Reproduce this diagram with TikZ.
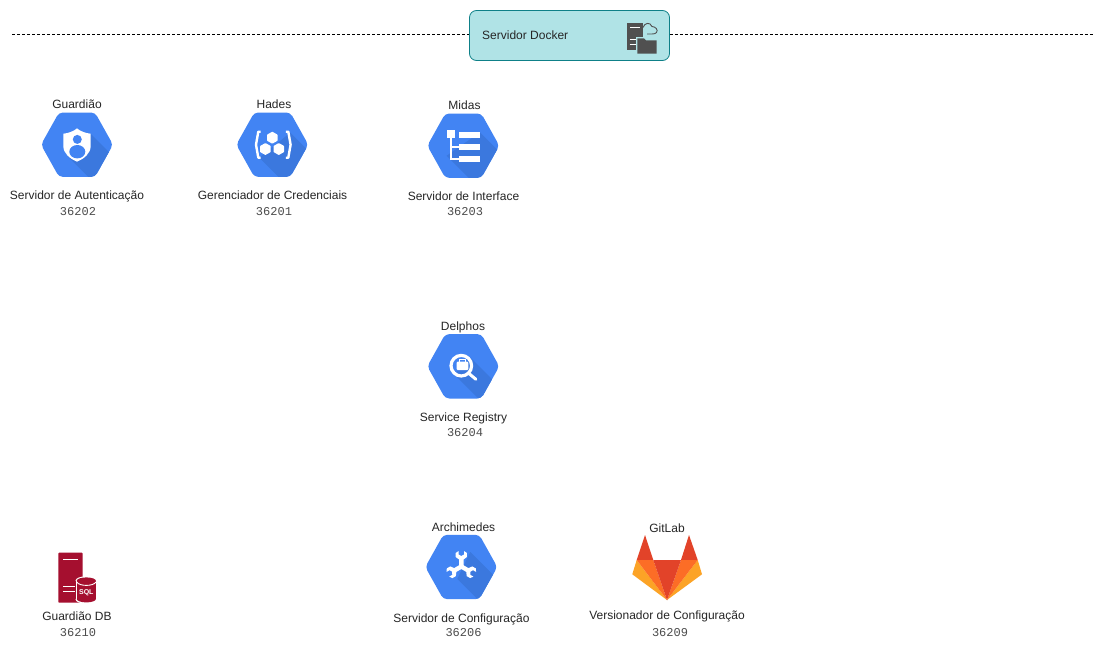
\documentclass[tikz,border=0pt]{standalone}
\usepackage{fontspec}
\setmainfont{Liberation Sans}
\newfontfamily\numfont{Liberation Mono}
\definecolor{gblue}{HTML}{4284F3}
\definecolor{gshade}{HTML}{3B78DE}
\definecolor{dockfill}{HTML}{B0E3E6}
\definecolor{dockline}{HTML}{0E8088}
\definecolor{icongrey}{HTML}{505050}
\definecolor{sqlred}{HTML}{A50F2F}
\definecolor{glred}{HTML}{E24329}
\definecolor{glorange}{HTML}{FC6D26}
\definecolor{glyellow}{HTML}{FCA326}
\tikzset{
  lbl/.style={inner sep=0pt,yshift=-1pt,text height=8.6pt,text depth=2.5pt,text=black!85,font=\fontsize{12}{14}\selectfont},
  portlbl/.style={inner sep=0pt,text height=7.5pt,text depth=1pt,text=black!70,font=\numfont\fontsize{12}{14}\selectfont},
  wline/.style={draw=white,line width=2pt},
  dashline/.style={dash pattern=on 3pt off 2pt,line width=0.8pt},
}
\newcommand{\hexpath}{(-36,0) -- (-18,-32.2) -- (18,-32.2) -- (36,0) -- (18,32.2) -- (-18,32.2) -- cycle}
% hexagon with diagonal shadow between points (#1,#2) and (#3,#4)
\newcommand{\hexbase}[4]{%
  \begin{scope}
    \clip[rounded corners=4pt] \hexpath;
    \fill[gblue] (-40,-40) rectangle (40,40);
    \fill[gshade] (#1,#2) -- (#1+60,#2+60) -- (#3+60,#4+60) -- (#3,#4) -- cycle;
  \end{scope}}
\begin{document}
\begin{tikzpicture}[x=1pt,y=-1pt]
\useasboundingbox (0,0) rectangle (1104,654);
\fill[white] (0,0) rectangle (1104,654);

% Docker bar
\coordinate (dashL) at (12,34.5);
\coordinate (dashR) at (1093,34.5);
\node[draw=dockline,fill=dockfill,line width=0.8pt,rounded corners=7pt,minimum width=200pt,minimum height=50pt,inner sep=0pt] (docker) at (569.5,35.5) {};
\draw[dashline] (dashL) -- (docker.west |- dashL);
\draw[dashline] (docker.east |- dashR) -- (dashR);
\node[lbl,anchor=west] (dockertxt) at (482,35) {Servidor Docker};
% docker icon
\fill[icongrey] (627.3,22.5) rectangle (643,49.5);
\draw[white,line width=1pt] (630,27.7) -- (640,27.7) (629.5,39) -- (636,39) (629.5,44.5) -- (636,44.5);
\draw[icongrey,line width=0.9pt] (643,27.5) .. controls (644.5,23) and (650,21.5) .. (652,26.5) .. controls (655.5,26.5) and (658.5,30) .. (656.5,32.5) .. controls (656,33.5) and (654,34) .. (652,34) -- (647,34);
\fill[dockfill] (636,36.5) rectangle (658,55);
\fill[icongrey] (637.3,38.3) -- (644,38.3) -- (646,40.3) -- (656.7,40.3) -- (656.7,53.5) -- (637.3,53.5) -- cycle;

% Guardiao
\begin{scope}[shift={(77,144.7)}]
  \hexbase{13.7}{-11}{-10}{11}
  \fill[white] (0,-16.3) .. controls (4,-13) and (9,-11.5) .. (13.7,-11) -- (13.7,1) .. controls (13.7,9) and (7,14) .. (0,17) .. controls (-7,14) and (-13.7,9) .. (-13.7,1) -- (-13.7,-11) .. controls (-9,-11.5) and (-4,-13) .. cycle;
  \fill[gblue] (0.3,-5.3) circle (4.5);
  \fill[gblue] (0.3,7) ellipse (8 and 6.7);
\end{scope}
\node[lbl] (n1) at (77,104.7) {Guardião};
\node[lbl] (n1a) at (77,195.7) {Servidor de Autenticação};
\node[portlbl] (n1b) at (78,212) {36202};

% Hades
\begin{scope}[shift={(272.3,144.7)}]
  \hexbase{18}{-12}{-13}{13}
  \draw[white,line width=2.4pt,line join=round] (-11.6,-13) -- (-14,-13) -- (-16.3,0) -- (-14,13) -- (-11.6,13);
  \draw[white,line width=2.4pt,line join=round] (13.6,-13) -- (16,-13) -- (18.3,0) -- (16,13) -- (13.6,13);
  \foreach \cx/\cy in {0/-7,-6.9/4.3,6.5/4.3}{
    \fill[white,rounded corners=0.5pt] (\cx,\cy-6) -- (\cx+5.3,\cy-3) -- (\cx+5.3,\cy+3) -- (\cx,\cy+6) -- (\cx-5.3,\cy+3) -- (\cx-5.3,\cy-3) -- cycle;
  }
\end{scope}
\node[lbl] (n2) at (274,104.7) {Hades};
\node[lbl] (n2a) at (272.5,195.7) {Gerenciador de Credenciais};
\node[portlbl] (n2b) at (274,212) {36201};

% Midas
\begin{scope}[shift={(463.3,145.7)}]
  \hexbase{16.7}{-13.4}{-16.6}{10}
  \fill[white] (-16.6,-15.7) rectangle (-8.3,-7.4);
  \draw[wline] (-12.6,-8) -- (-12.6,13.3) -- (-4,13.3) (-12.6,1.3) -- (-4,1.3);
  \fill[white] (-4,-13.4) rectangle (16.7,-7.4);
  \fill[white] (-4,-1.7) rectangle (16.7,4.3);
  \fill[white] (-4,10.3) rectangle (16.7,16.3);
\end{scope}
\node[lbl] (n3) at (464.5,105.7) {Midas};
\node[lbl] (n3a) at (463.5,196.7) {Servidor de Interface};
\node[portlbl] (n3b) at (465,212) {36203};

% Delphos
\begin{scope}[shift={(463.3,366.3)}]
  \hexbase{7}{-9}{-9}{8}
  \draw[white,line width=3.2pt] (-2,-0.6) circle (10.3);
  \draw[white,line width=3pt,line cap=round] (6,7.5) -- (12.6,13);
  \fill[white,rounded corners=1pt] (-6.6,-4.6) rectangle (5,3.7);
  \draw[white,line width=1pt] (-3.5,-4.5) -- (-3.5,-6.8) -- (2,-6.8) -- (2,-4.5);
\end{scope}
\node[lbl] (n4) at (463,326.7) {Delphos};
\node[lbl] (n4a) at (463.5,417.7) {Service Registry};
\node[portlbl] (n4b) at (465,433) {36204};

% Archimedes
\begin{scope}[shift={(461.3,567)}]
  \hexbase{9}{-15}{-4}{12}
  \foreach \a in {0,120,240}{
    \begin{scope}[shift={(0,-0.5)},rotate=\a]
      \fill[white] (-2.2,1) -- (-2.2,-7) -- (-5.6,-9.5) -- (-5.6,-13.5) -- (-2.7,-15.5) -- (-2.7,-12) -- (0,-10.5) -- (2.7,-12) -- (2.7,-15.5) -- (5.6,-13.5) -- (5.6,-9.5) -- (2.2,-7) -- (2.2,1) -- cycle;
    \end{scope}
  }
\end{scope}
\node[lbl] (n5) at (463.5,527.7) {Archimedes};
\node[lbl] (n5a) at (461.5,618.7) {Servidor de Configuração};
\node[portlbl] (n5b) at (463.5,633) {36206};

% GitLab
\fill[glred] (645,535) -- (653.3,560) -- (636.7,560) -- cycle;
\fill[glred] (689,535) -- (697.7,560) -- (681,560) -- cycle;
\fill[glyellow] (636.7,560) -- (632.3,574.3) -- (667,600) -- cycle;
\fill[glyellow] (697.7,560) -- (702,574.3) -- (667,600) -- cycle;
\fill[glorange] (636.7,560) -- (653.3,560) -- (667,600) -- cycle;
\fill[glorange] (697.7,560) -- (681,560) -- (667,600) -- cycle;
\fill[glred] (653.3,560) -- (681,560) -- (667,600) -- cycle;
\node[lbl] (n6) at (667,528.7) {GitLab};
\node[lbl] (n6a) at (667,615.7) {Versionador de Configuração};
\node[portlbl] (n6b) at (670,633) {36209};

% SQL server
\fill[sqlred,rounded corners=0.8pt] (58.3,552.7) rectangle (82.7,602.7);
\draw[white,line width=1.2pt] (63.3,559.3) -- (78,559.3) (63.3,586.7) -- (75,586.7) (63.3,591.7) -- (75,591.7);
\fill[white] (75.6,580.5) rectangle (97.1,599.5);
\fill[white] (86.35,580.5) ellipse (10.75 and 4.2);
\fill[white] (86.35,599.5) ellipse (10.75 and 4.2);
\fill[sqlred] (76.8,580.8) rectangle (95.9,599);
\fill[sqlred] (86.35,580.8) ellipse (9.55 and 3.4);
\fill[sqlred] (86.35,599) ellipse (9.55 and 3.4);
\draw[white,line width=0.9pt] (76.8,582) .. controls (79,586.5) and (93.7,586.5) .. (95.9,582);
\node[inner sep=0pt,text=white,font=\bfseries\fontsize{7}{8}\selectfont] (sqltxt) at (86.3,592.7) {SQL};
\node[lbl] (n7) at (77,616.7) {Guardião DB};
\node[portlbl] (n7b) at (78,633) {36210};
\end{tikzpicture}
\end{document}
